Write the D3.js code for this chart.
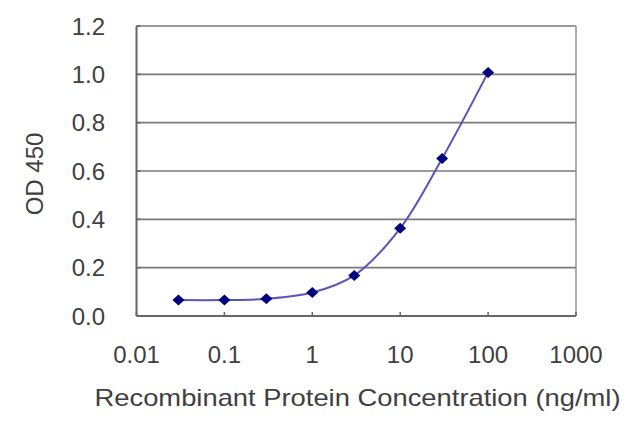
<!DOCTYPE html>
<html>
<head>
<meta charset="utf-8">
<script src="https://cdn.jsdelivr.net/npm/d3@7"></script>
<style>
  html, body { margin: 0; padding: 0; background: #ffffff; }
  svg { display: block; }
  text { font-family: "Liberation Sans", Arial, sans-serif; fill: #404040; }
</style>
</head>
<body>
<svg id="chart" width="640" height="427"></svg>
<script>
// ---- data ----
const concentrations = [0.03, 0.1, 0.3, 1, 3, 10, 30, 100];
const odValues = [0.066, 0.066, 0.071, 0.097, 0.168, 0.363, 0.652, 1.008];
const xTickValues = [0.01, 0.1, 1, 10, 100, 1000];
const xTickLabels = ["0.01", "0.1", "1", "10", "100", "1000"];
const yTickValues = [0, 0.2, 0.4, 0.6, 0.8, 1.0, 1.2];
const yTickLabels = ["0.0", "0.2", "0.4", "0.6", "0.8", "1.0", "1.2"];
const xTitle = "Recombinant Protein Concentration (ng/ml)";
const yTitle = "OD 450";

(function () {
// ---- layout ----
const svg = d3.select("#chart");
const pLeft = 136.5, pRight = 576, pTop = 26, pBottom = 316;

const x = d3.scaleLog().domain([0.01, 1000]).range([pLeft, pRight]);
const y = d3.scaleLinear().domain([0, 1.2]).range([pBottom, pTop]);

// gridlines
svg.append("g").selectAll("line").data(yTickValues.filter(v => v > 0)).join("line")
  .attr("x1", pLeft).attr("x2", pRight)
  .attr("y1", d => y(d)).attr("y2", d => y(d))
  .attr("stroke", "#7a7a7a").attr("stroke-width", 1.6);

// right border
svg.append("line").attr("x1", pRight).attr("x2", pRight).attr("y1", pTop).attr("y2", pBottom)
  .attr("stroke", "#8a8a8a").attr("stroke-width", 1.4);

// axes lines
svg.append("line").attr("x1", pLeft).attr("x2", pLeft).attr("y1", pTop).attr("y2", pBottom)
  .attr("stroke", "#666").attr("stroke-width", 2);
svg.append("line").attr("x1", pLeft).attr("x2", pRight).attr("y1", pBottom).attr("y2", pBottom)
  .attr("stroke", "#666").attr("stroke-width", 2);

// inward ticks
svg.append("g").selectAll("line").data(xTickValues).join("line")
  .attr("x1", d => x(d)).attr("x2", d => x(d))
  .attr("y1", pBottom).attr("y2", pBottom - 4)
  .attr("stroke", "#666").attr("stroke-width", 1.5);
svg.append("g").selectAll("line").data(yTickValues).join("line")
  .attr("x1", pLeft).attr("x2", pLeft + 4)
  .attr("y1", d => y(d)).attr("y2", d => y(d))
  .attr("stroke", "#666").attr("stroke-width", 1.5);

// tick labels
svg.append("g").selectAll("text").data(yTickValues).join("text")
  .attr("x", 105).attr("y", d => y(d)).attr("dy", "0.36em")
  .attr("text-anchor", "end").attr("font-size", 24)
  .text((d, i) => yTickLabels[i]);

svg.append("g").selectAll("text").data(xTickValues).join("text")
  .attr("x", d => x(d)).attr("y", 363)
  .attr("text-anchor", "middle").attr("font-size", 24)
  .text((d, i) => xTickLabels[i]);

// axis titles
svg.append("text")
  .attr("x", 357.5).attr("y", 406)
  .attr("text-anchor", "middle").attr("font-size", 24)
  .attr("textLength", 526).attr("lengthAdjust", "spacingAndGlyphs")
  .text(xTitle);

svg.append("text")
  .attr("transform", "translate(43,174) rotate(-90)")
  .attr("text-anchor", "middle").attr("font-size", 24)
  .text(yTitle);

// data
const pts = concentrations.map((c, i) => [x(c), y(odValues[i])]);
const line = d3.line().curve(d3.curveCatmullRom.alpha(0.5));
svg.append("path").attr("d", line(pts))
  .attr("fill", "none").attr("stroke", "#5656b8").attr("stroke-width", 2);

svg.append("g").selectAll("path").data(concentrations).join("path")
  .attr("transform", (d, i) => `translate(${x(d)},${y(odValues[i])})`)
  .attr("d", "M-6,0L0,-5.5L6,0L0,5.5Z")
  .attr("fill", "#000080");
})();
</script>
</body>
</html>
